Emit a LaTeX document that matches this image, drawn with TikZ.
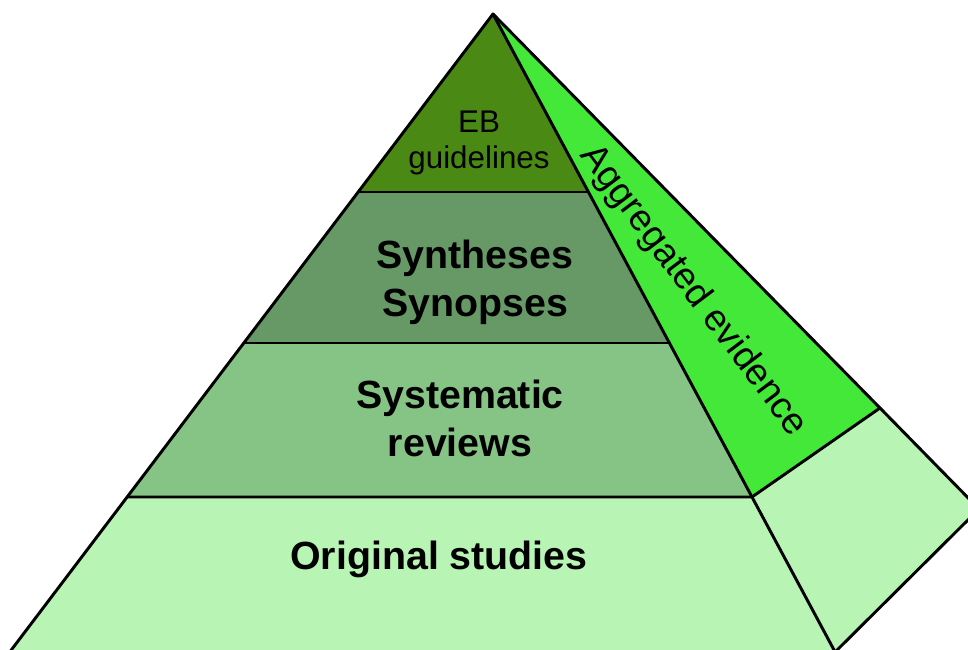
\documentclass[tikz,border=0pt]{standalone}
\usepackage{fontspec}
\setmainfont{Liberation Sans}
\definecolor{cEB}{RGB}{74,138,20}
\definecolor{cSyn}{RGB}{102,153,102}
\definecolor{cSys}{RGB}{134,196,134}
\definecolor{cOrig}{RGB}{184,244,180}
\definecolor{cAgg}{RGB}{68,232,56}
\begin{document}
\begin{tikzpicture}[x=0.75pt,y=-0.75pt,
  edge/.style={draw=black,line width=2.2pt,line join=round,line cap=round},
  lbl/.style={align=center,text=black,inner sep=0pt},
  big/.style={lbl,font=\fontsize{29.5}{36}\selectfont\bfseries},
  small/.style={lbl,font=\fontsize{23.5}{27}\selectfont}]
\useasboundingbox (0,0) rectangle (968,650);
\clip (0,0) rectangle (968,650);
\coordinate (A) at (493,14);
\coordinate (L1) at (358.1,192); \coordinate (R1) at (588.4,192);
\coordinate (L2) at (243.7,343); \coordinate (R2) at (669.4,343);
\coordinate (L3) at (127.0,497); \coordinate (R3) at (752.0,497);
\coordinate (L4) at (-16.0,686); \coordinate (R4) at (835.1,652);
\coordinate (S1) at (880,408);
\coordinate (S2) at (979,509);
% fills
\fill[cEB] (A) -- (L1) -- (R1) -- cycle;
\fill[cSyn] (L1) -- (L2) -- (R2) -- (R1) -- cycle;
\fill[cSys] (L2) -- (L3) -- (R3) -- (R2) -- cycle;
\fill[cOrig] (L3) -- (L4) -- (835.1,686) -- (R4) -- (R3) -- cycle;
\fill[cAgg] (A) -- (R3) -- (S1) -- cycle;
\fill[cOrig] (R3) -- (S1) -- (S2) -- (R4) -- cycle;
% outlines
\draw[edge] (L4) -- (A) -- (R4);
\draw[edge] (A) -- (S1) -- (S2) -- (R4);
\draw[edge] (L1) -- (R1);
\draw[edge] (L2) -- (R2);
\draw[edge] (L3) -- (R3) -- (S1);
% labels
\node[small] (eb) at (479,143) {EB\\guidelines};
\node[big] (syn) at (475,282) {Syntheses\\Synopses};
\node[big] (sys) at (460,418) {Systematic\\reviews};
\node[big] (orig) at (439,559) {Original studies};
\node[lbl,font=\fontsize{28}{30}\selectfont,rotate=-53] (agg) at (693,291) {Aggregated evidence};
\end{tikzpicture}
\end{document}
